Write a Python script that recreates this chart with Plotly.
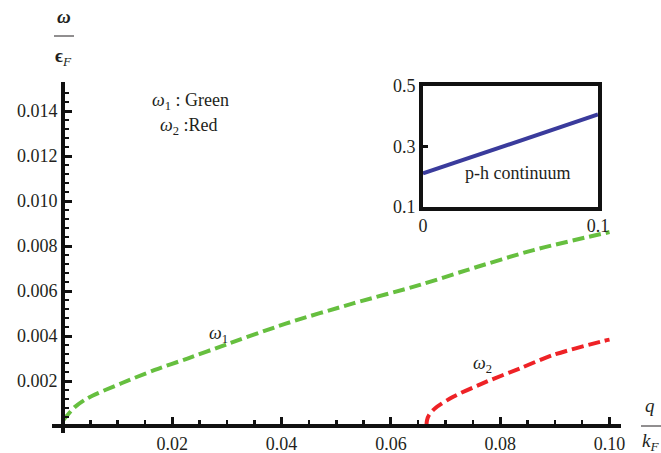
import plotly.graph_objects as go

# ---- data ----
q_green = [0.0, 0.0007, 0.0022, 0.0046, 0.0107, 0.0168, 0.0229, 0.0287, 0.0409, 0.0531, 0.0653, 0.0739, 0.0861, 0.1]
w_green = [0.00025, 0.00045, 0.00085, 0.00125, 0.0019, 0.00249, 0.00301, 0.00352, 0.00456, 0.00545, 0.00627, 0.00693, 0.00782, 0.00862]

q_red = [0.0665, 0.0666, 0.0670, 0.0681, 0.0714, 0.0775, 0.0836, 0.0897, 0.0989, 0.1]
w_red = [0.0, 0.00025, 0.0005, 0.00079, 0.0013, 0.00197, 0.00256, 0.00316, 0.00378, 0.00384]

q_inset = [0.0, 0.1]
w_inset = [0.21, 0.405]

x_tickvals = [0.02, 0.04, 0.06, 0.08, 0.10]
x_ticktext = ["0.02", "0.04", "0.06", "0.08", "0.10"]
y_tickvals = [0.002, 0.004, 0.006, 0.008, 0.010, 0.012, 0.014]
y_ticktext = ["0.002", "0.004", "0.006", "0.008", "0.010", "0.012", "0.014"]
x_minor = [0.005, 0.01, 0.015, 0.025, 0.03, 0.035, 0.045, 0.05, 0.055, 0.065, 0.07, 0.075, 0.085, 0.09, 0.095]
y_minor = [round(0.0004 * i, 5) for i in range(1, 38) if i % 5]

inset_xvals = [0, 0.1]
inset_xtext = ["0", "0.1"]
inset_yvals = [0.1, 0.3, 0.5]
inset_ytext = ["0.1", "0.3", "0.5"]

W, H = 661, 453
ML, MR, MT, MB = 52, 40, 82, 20
PW, PH = W - ML - MR, H - MT - MB


def px(xp):
    return (xp - ML) / PW


def py(yp):
    return (H - MB - yp) / PH


FONT = "Liberation Serif, Times New Roman, DejaVu Serif, serif"
TXT = "#231f20"
GREEN = "#66bf3f"
RED = "#ee2226"
BLUE = "#3a3b9c"

fig = go.Figure()
fig.add_trace(go.Scatter(x=q_green, y=w_green, mode="lines",
                         line=dict(color=GREEN, width=4, dash="12px,5px", shape="spline", smoothing=0.8),
                         hoverinfo="skip", showlegend=False))
fig.add_trace(go.Scatter(x=q_red, y=w_red, mode="lines",
                         line=dict(color=RED, width=4, dash="12px,5px", shape="spline", smoothing=0.8),
                         hoverinfo="skip", showlegend=False))
fig.add_trace(go.Scatter(x=q_inset, y=w_inset, mode="lines", xaxis="x2", yaxis="y2",
                         line=dict(color=BLUE, width=4),
                         hoverinfo="skip", showlegend=False))

xr = [-0.00201, 0.1021]
yr = [-0.000311, 0.01529]

fig.update_layout(
    width=W, height=H,
    margin=dict(l=ML, r=MR, t=MT, b=MB, pad=0),
    paper_bgcolor="white", plot_bgcolor="white",
    font=dict(family=FONT, size=18, color=TXT),
    xaxis=dict(range=xr, domain=[0, 1], anchor="free", position=(0 - yr[0]) / (yr[1] - yr[0]),
               showline=True, linewidth=4, linecolor="#111",
               showgrid=False, zeroline=False, automargin=False,
               ticks="inside", ticklen=7, tickwidth=3, tickcolor="#111",
               tickvals=x_tickvals, ticktext=x_ticktext,
               minor=dict(tickvals=x_minor, ticks="inside", ticklen=4, tickwidth=2.5, tickcolor="#111", showgrid=False),
               tickfont=dict(family=FONT, size=18, color=TXT)),
    yaxis=dict(range=yr, domain=[0, 1], anchor="free", position=(0 - xr[0]) / (xr[1] - xr[0]),
               showline=True, linewidth=4, linecolor="#111",
               showgrid=False, zeroline=False, automargin=False,
               ticks="inside", ticklen=7, tickwidth=3, tickcolor="#111",
               tickvals=y_tickvals, ticktext=y_ticktext,
               minor=dict(tickvals=y_minor, ticks="inside", ticklen=4, tickwidth=2.5, tickcolor="#111", showgrid=False),
               tickfont=dict(family=FONT, size=18, color=TXT)),
    xaxis2=dict(range=[0, 0.1], domain=[px(423), px(598)], anchor="y2",
                showline=True, mirror=True, linewidth=4, linecolor="#111",
                showgrid=False, zeroline=False, automargin=False,
                ticks="", tickvals=inset_xvals, ticktext=inset_xtext,
                tickfont=dict(family=FONT, size=18, color=TXT)),
    yaxis2=dict(range=[0.1, 0.5], domain=[py(206.7), py(85.7)], anchor="x2",
                showline=True, mirror=True, linewidth=4, linecolor="#111",
                showgrid=False, zeroline=False, automargin=False,
                ticks="inside", ticklen=5, tickwidth=3, tickcolor="#111",
                tickvals=inset_yvals, ticktext=inset_ytext,
                tickfont=dict(family=FONT, size=18, color=TXT)),
)


def ann(text, xp, yp, size=18, xanchor="center"):
    fig.add_annotation(text=text, x=px(xp), y=py(yp), xref="paper", yref="paper",
                       showarrow=False, xanchor=xanchor, yanchor="middle",
                       font=dict(family=FONT, size=size, color=TXT))


# axis titles as fractions
ann("<b><i>ω</i></b>", 64, 16, 19)
ann("<b>ϵ</b><i><sub>F</sub></i>", 63, 57, 19)
ann("<i>q</i>", 650, 405, 19)
ann("<i>k<sub>F</sub></i>", 650, 442, 19)
for (x0, x1, yb) in [(54, 74, 36), (641, 661, 426)]:
    fig.add_shape(type="line", xref="paper", yref="paper", x0=px(x0), x1=px(x1), y0=py(yb), y1=py(yb),
                  line=dict(color=TXT, width=1))

ann("<i>ω</i><sub>1</sub> : Green", 190, 101)
ann("<i>ω</i><sub>2</sub> :Red", 189, 126)
ann("<i>ω</i><sub>1</sub>", 218, 334)
ann("<i>ω</i><sub>2</sub>", 482, 364)
ann("p-h continuum", 518, 173, 18)

fig.write_html("out.html", config={"displayModeBar": False, "staticPlot": True},
               post_script="document.body.style.margin='0';document.body.style.overflow='hidden';")
